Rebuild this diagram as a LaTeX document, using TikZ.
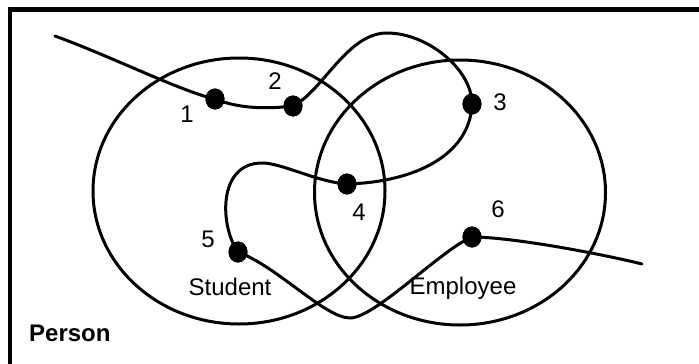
\documentclass[tikz,border=0pt]{standalone}
\usepackage{fontspec}
\setmainfont{Liberation Sans}
\usetikzlibrary{shapes.geometric}
\begin{document}
\begin{tikzpicture}[x=1pt,y=-1pt,
  setline/.style={draw=black,line width=3pt},
  dot/.style={ellipse,fill=black,inner sep=0pt,minimum width=19pt,minimum height=21pt},
  setbox/.style={ellipse,draw=black,line width=3pt,inner sep=0pt},
  num/.style={font=\fontsize{24}{28}\selectfont,anchor=base,inner sep=0pt},
  lbl/.style={font=\fontsize{24}{28}\selectfont,anchor=base,inner sep=0pt},
  route/.style={draw=black,line width=3pt,line cap=round}]
\useasboundingbox (0,0) rectangle (699,364);
\fill[white] (0,0) rectangle (699,364);
% frame
\draw[line width=4.5pt,line join=miter] (10,364) -- (10,9.5) -- (699,9.5);
% sets
\node[setbox,minimum width=292pt,minimum height=266pt] (student) at (239,191) {};
\node[setbox,minimum width=291pt,minimum height=265pt] (employee) at (460,192.5) {};
% waypoints
\coordinate (s) at (55,36);
\coordinate (top) at (387,33);
\coordinate (w) at (262,163);
\coordinate (b) at (350,318);
\coordinate (e) at (642,264);
% points
\node[dot] (p1) at (215,99) {};
\node[dot] (p2) at (293,106) {};
\node[dot] (p3) at (472,104) {};
\node[dot] (p4) at (347,184) {};
\node[dot] (p5) at (238,252) {};
\node[dot] (p6) at (472,237) {};
% route
\draw[route] (s) .. controls +(60,22) and +(-35,-8) .. (p1.center)
  .. controls +(25,10) and +(-25,3) .. (p2.center)
  .. controls +(30,-15) and +(-40,0) .. (top)
  .. controls +(40,0) and +(0,-35) .. (p3.center)
  .. controls +(-2,50) and +(70,-2) .. (p4.center)
  .. controls +(-30,-2) and +(20,0) .. (w)
  .. controls +(-45,0) and +(-18,-25) .. (p5.center)
  .. controls +(40,15) and +(-25,0) .. (b)
  .. controls +(25,0) and +(-30,12) .. (p6.center)
  .. controls +(40,0) and +(-40,-10) .. (e);
% redraw dots on top
\foreach \p in {p1,p2,p3,p4,p5,p6} \fill (\p) ellipse [x radius=9.5pt,y radius=10.5pt];
% labels
\node[num] (n1) at (187,122) {1};
\node[num] (n2) at (275,89) {2};
\node[num] (n3) at (500,110) {3};
\node[num] (n4) at (359,220) {4};
\node[num] (n5) at (208,247) {5};
\node[num] (n6) at (498,217) {6};
\node[lbl] (ls) at (230,295) {Student};
\node[lbl] (le) at (463,294) {Employee};
\node[lbl,anchor=base west,font=\fontsize{24}{28}\selectfont\bfseries] (lp) at (29,341) {Person};
\end{tikzpicture}
\end{document}
